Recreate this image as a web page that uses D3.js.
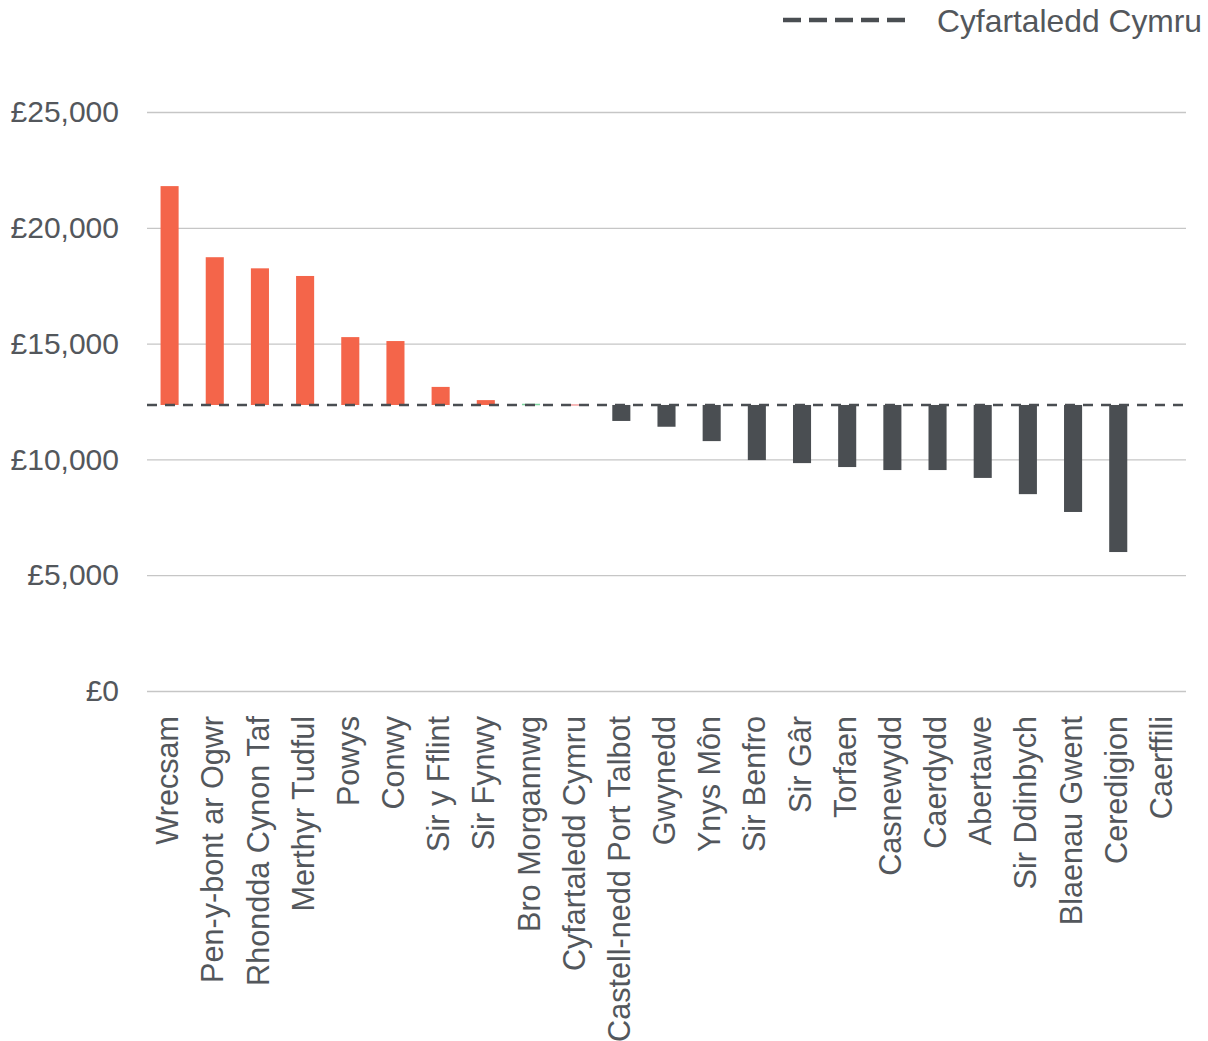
<!DOCTYPE html>
<html>
<head>
<meta charset="utf-8">
<script src="https://cdn.jsdelivr.net/npm/d3@7"></script>
<style>
  html, body { margin: 0; padding: 0; background: #fff; }
  svg { display: block; font-family: "Liberation Sans", Arial, sans-serif; }
</style>
</head>
<body>
<svg id="chart" width="1208" height="1041"></svg>
<script>
// Gwariant fesul awdurdod lleol o'i gymharu â chyfartaledd Cymru
const categories = [
  "Wrecsam", "Pen-y-bont ar Ogwr", "Rhondda Cynon Taf", "Merthyr Tudful",
  "Powys", "Conwy", "Sir y Fflint", "Sir Fynwy", "Bro Morgannwg",
  "Cyfartaledd Cymru", "Castell-nedd Port Talbot", "Gwynedd", "Ynys Môn",
  "Sir Benfro", "Sir Gâr", "Torfaen", "Casnewydd", "Caerdydd", "Abertawe",
  "Sir Ddinbych", "Blaenau Gwent", "Ceredigion", "Caerffili"
];
const values = [
  21800, 18730, 18250, 17920, 15280, 15110, 13130, 12560, 12370,
  12350, 11660, 11410, 10790, 9970, 9840, 9670, 9540, 9540, 9200,
  8500, 7730, 6000, null
];
const groups = [
  "uwch", "uwch", "uwch", "uwch", "uwch", "uwch", "uwch", "uwch", "tebyg",
  "cymru", "is", "is", "is", "is", "is", "is", "is", "is", "is",
  "is", "is", "is", "dim"
];
const walesAverage = 12350;
const yTicks = [0, 5000, 10000, 15000, 20000, 25000];
const legendLabel = "Cyfartaledd Cymru";

const colours = { uwch: "#f4654a", tebyg: "#7ed6a0", cymru: "#f5a3a3", is: "#4a4e52", dim: "none" };
const textColour = "#53575c";

const svg = d3.select("#chart");
const plotLeft = 147, plotRight = 1186, plotTop = 112, plotBottom = 691;

const x = d3.scaleBand().domain(categories).range([plotLeft, plotRight]).paddingInner(0.6).paddingOuter(0.3);
const y = d3.scaleLinear().domain([0, 25000]).range([plotBottom, plotTop]);

// gridlines and y labels
const yAxis = svg.append("g")
  .attr("transform", `translate(${plotLeft},0)`)
  .call(d3.axisLeft(y).tickValues(yTicks)
    .tickSize(-(plotRight - plotLeft))
    .tickPadding(28)
    .tickFormat(d => "£" + d3.format(",")(d)));
yAxis.select(".domain").remove();
yAxis.selectAll(".tick line").attr("stroke", "#c6c6c6").attr("stroke-width", 1.3);
yAxis.selectAll(".tick text").attr("fill", textColour).attr("font-size", 30)
  .attr("font-family", "Liberation Sans, Arial, sans-serif");

// bars from the Wales average to each value
const data = categories.map((c, i) => ({ c, v: values[i], g: groups[i] })).filter(d => d.v != null);
svg.append("g").selectAll("rect").data(data).join("rect")
  .attr("x", d => x(d.c))
  .attr("width", x.bandwidth())
  .attr("y", d => Math.min(y(d.v), y(walesAverage)) - (Math.abs(y(d.v) - y(walesAverage)) < 1.5 ? 0.75 : 0))
  .attr("height", d => Math.max(1.5, Math.abs(y(d.v) - y(walesAverage))))
  .attr("fill", d => colours[d.g]);

// Wales average line
svg.append("line")
  .attr("x1", plotLeft).attr("x2", plotRight)
  .attr("y1", y(walesAverage)).attr("y2", y(walesAverage))
  .attr("stroke", "#4a4e52").attr("stroke-width", 2.6)
  .attr("stroke-dasharray", "10,8");

// x labels
const xAxis = svg.append("g")
  .attr("transform", `translate(0,${plotBottom})`)
  .call(d3.axisBottom(x).tickSize(0).tickPadding(0));
xAxis.select(".domain").remove();
xAxis.selectAll(".tick text")
  .attr("fill", textColour).attr("font-size", 30.6)
  .attr("font-family", "Liberation Sans, Arial, sans-serif")
  .attr("transform", "rotate(-90)")
  .attr("text-anchor", "end")
  .attr("x", -25).attr("y", 0).attr("dy", "0.28em");

// legend
const legend = svg.append("g");
legend.append("line")
  .attr("x1", 783).attr("x2", 905).attr("y1", 20).attr("y2", 20)
  .attr("stroke", "#4a4e52").attr("stroke-width", 4.5)
  .attr("stroke-dasharray", "18,8");
legend.append("text")
  .attr("x", 937).attr("y", 32)
  .attr("fill", textColour).attr("font-size", 31.8)
  .text(legendLabel);
</script>
</body>
</html>
